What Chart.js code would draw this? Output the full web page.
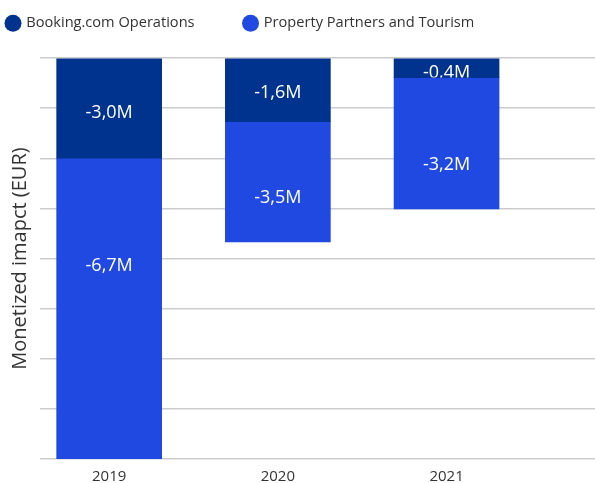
<!DOCTYPE html>
<html>
<head>
<meta charset="utf-8">
<script src="https://cdn.jsdelivr.net/npm/chart.js@4"></script>
<style>
  html, body { margin: 0; padding: 0; background: #fff; }
  #wrap { width: 595px; height: 483px; }
</style>
</head>
<body>
<div id="wrap"><canvas id="impact"></canvas></div>
<script>
// categories
const years = ['2019', '2020', '2021'];
// bar heights as drawn (one unit = one gridline step)
const opsHeights = [-2.0, -1.27, -0.39];
const partnerHeights = [-6.0, -2.4, -2.62];
// printed labels and where they sit on the same axis
const opsLabels = ['-3,0M', '-1,6M', '-0,4M'];
const partnerLabels = ['-6,7M', '-3,5M', '-3,2M'];
const opsLabelAt = [-1.05, -0.66, -0.26];
const partnerLabelAt = [-4.1, -2.76, -2.1];

const FONT = '"Open Sans", "Noto Sans", sans-serif';
const LEGEND_GAP = 50;

const toPoints = (vals) => vals.map((v, i) => ({ x: i, y: v }));

// white value labels inside each segment, clipped to the bar
const segmentLabels = {
    id: 'segmentLabels',
    afterDatasetsDraw(chart) {
        const ctx = chart.ctx;
        const yScale = chart.scales.y;
        const texts = [opsLabels, partnerLabels];
        const spots = [opsLabelAt, partnerLabelAt];
        chart.data.datasets.forEach((ds, di) => {
            const meta = chart.getDatasetMeta(di);
            meta.data.forEach((bar, i) => {
                const p = bar.getProps(['x', 'y', 'base', 'width'], true);
                const top = Math.min(p.y, p.base);
                const bottom = Math.max(p.y, p.base);
                ctx.save();
                ctx.beginPath();
                ctx.rect(p.x - p.width / 2, top, p.width, bottom - top);
                ctx.clip();
                ctx.fillStyle = '#ffffff';
                ctx.font = '18px ' + FONT;
                ctx.textAlign = 'center';
                ctx.textBaseline = 'middle';
                ctx.fillText(texts[di][i], p.x, yScale.getPixelForValue(spots[di][i]) + 2);
                ctx.restore();
            });
        });
    }
};

// legend padding doubles as the item gap, so fix its height by hand
const legendHeight = {
    id: 'legendHeight',
    beforeInit(chart) {
        const origFit = chart.legend.fit;
        chart.legend.fit = function () {
            origFit.bind(chart.legend)();
            this.height = 92;
        };
    }
};

const ctx = document.getElementById('impact').getContext('2d');
const impactChart = new Chart(ctx, {
    type: 'bar',
    data: {
        datasets: [
            {
                label: 'Booking.com Operations',
                data: toPoints(opsHeights),
                backgroundColor: '#00338d',
                borderWidth: 0,
                barThickness: 105
            },
            {
                label: 'Property Partners and Tourism',
                data: toPoints(partnerHeights),
                backgroundColor: '#2049e2',
                borderWidth: 0,
                barThickness: 105
            }
        ]
    },
    options: {
        responsive: true,
        maintainAspectRatio: false,
        animation: false,
        layout: { padding: { left: -43, right: 0, top: -34, bottom: -12 } },
        plugins: {
            legend: {
                position: 'top',
                align: 'start',
                labels: {
                    usePointStyle: true,
                    pointStyle: 'circle',
                    boxWidth: 12,
                    boxHeight: 12,
                    padding: LEGEND_GAP,
                    color: '#333333',
                    font: { family: FONT, size: 14.6 }
                }
            },
            tooltip: { enabled: false }
        },
        scales: {
            x: {
                type: 'linear',
                stacked: true,
                offset: false,
                min: -0.41,
                max: 2.88,
                grid: { display: false, drawTicks: false, offset: false },
                border: { display: false },
                afterBuildTicks: (scale) => {
                    scale.ticks = years.map((y, i) => ({ value: i }));
                },
                ticks: {
                    color: '#333333',
                    font: { family: FONT, size: 15 },
                    padding: 9,
                    callback: (v) => years[v]
                }
            },
            y: {
                stacked: true,
                min: -8,
                max: 0,
                ticks: { display: false, stepSize: 1 },
                grid: {
                    color: '#cccccc',
                    lineWidth: 1.5,
                    drawTicks: false
                },
                border: { display: false },
                title: {
                    display: true,
                    text: 'Monetized imapct (EUR)',
                    color: '#333333',
                    font: { family: FONT, size: 20 },
                    padding: { top: 51, bottom: 8 }
                }
            }
        }
    },
    plugins: [segmentLabels, legendHeight]
});
</script>
</body>
</html>
